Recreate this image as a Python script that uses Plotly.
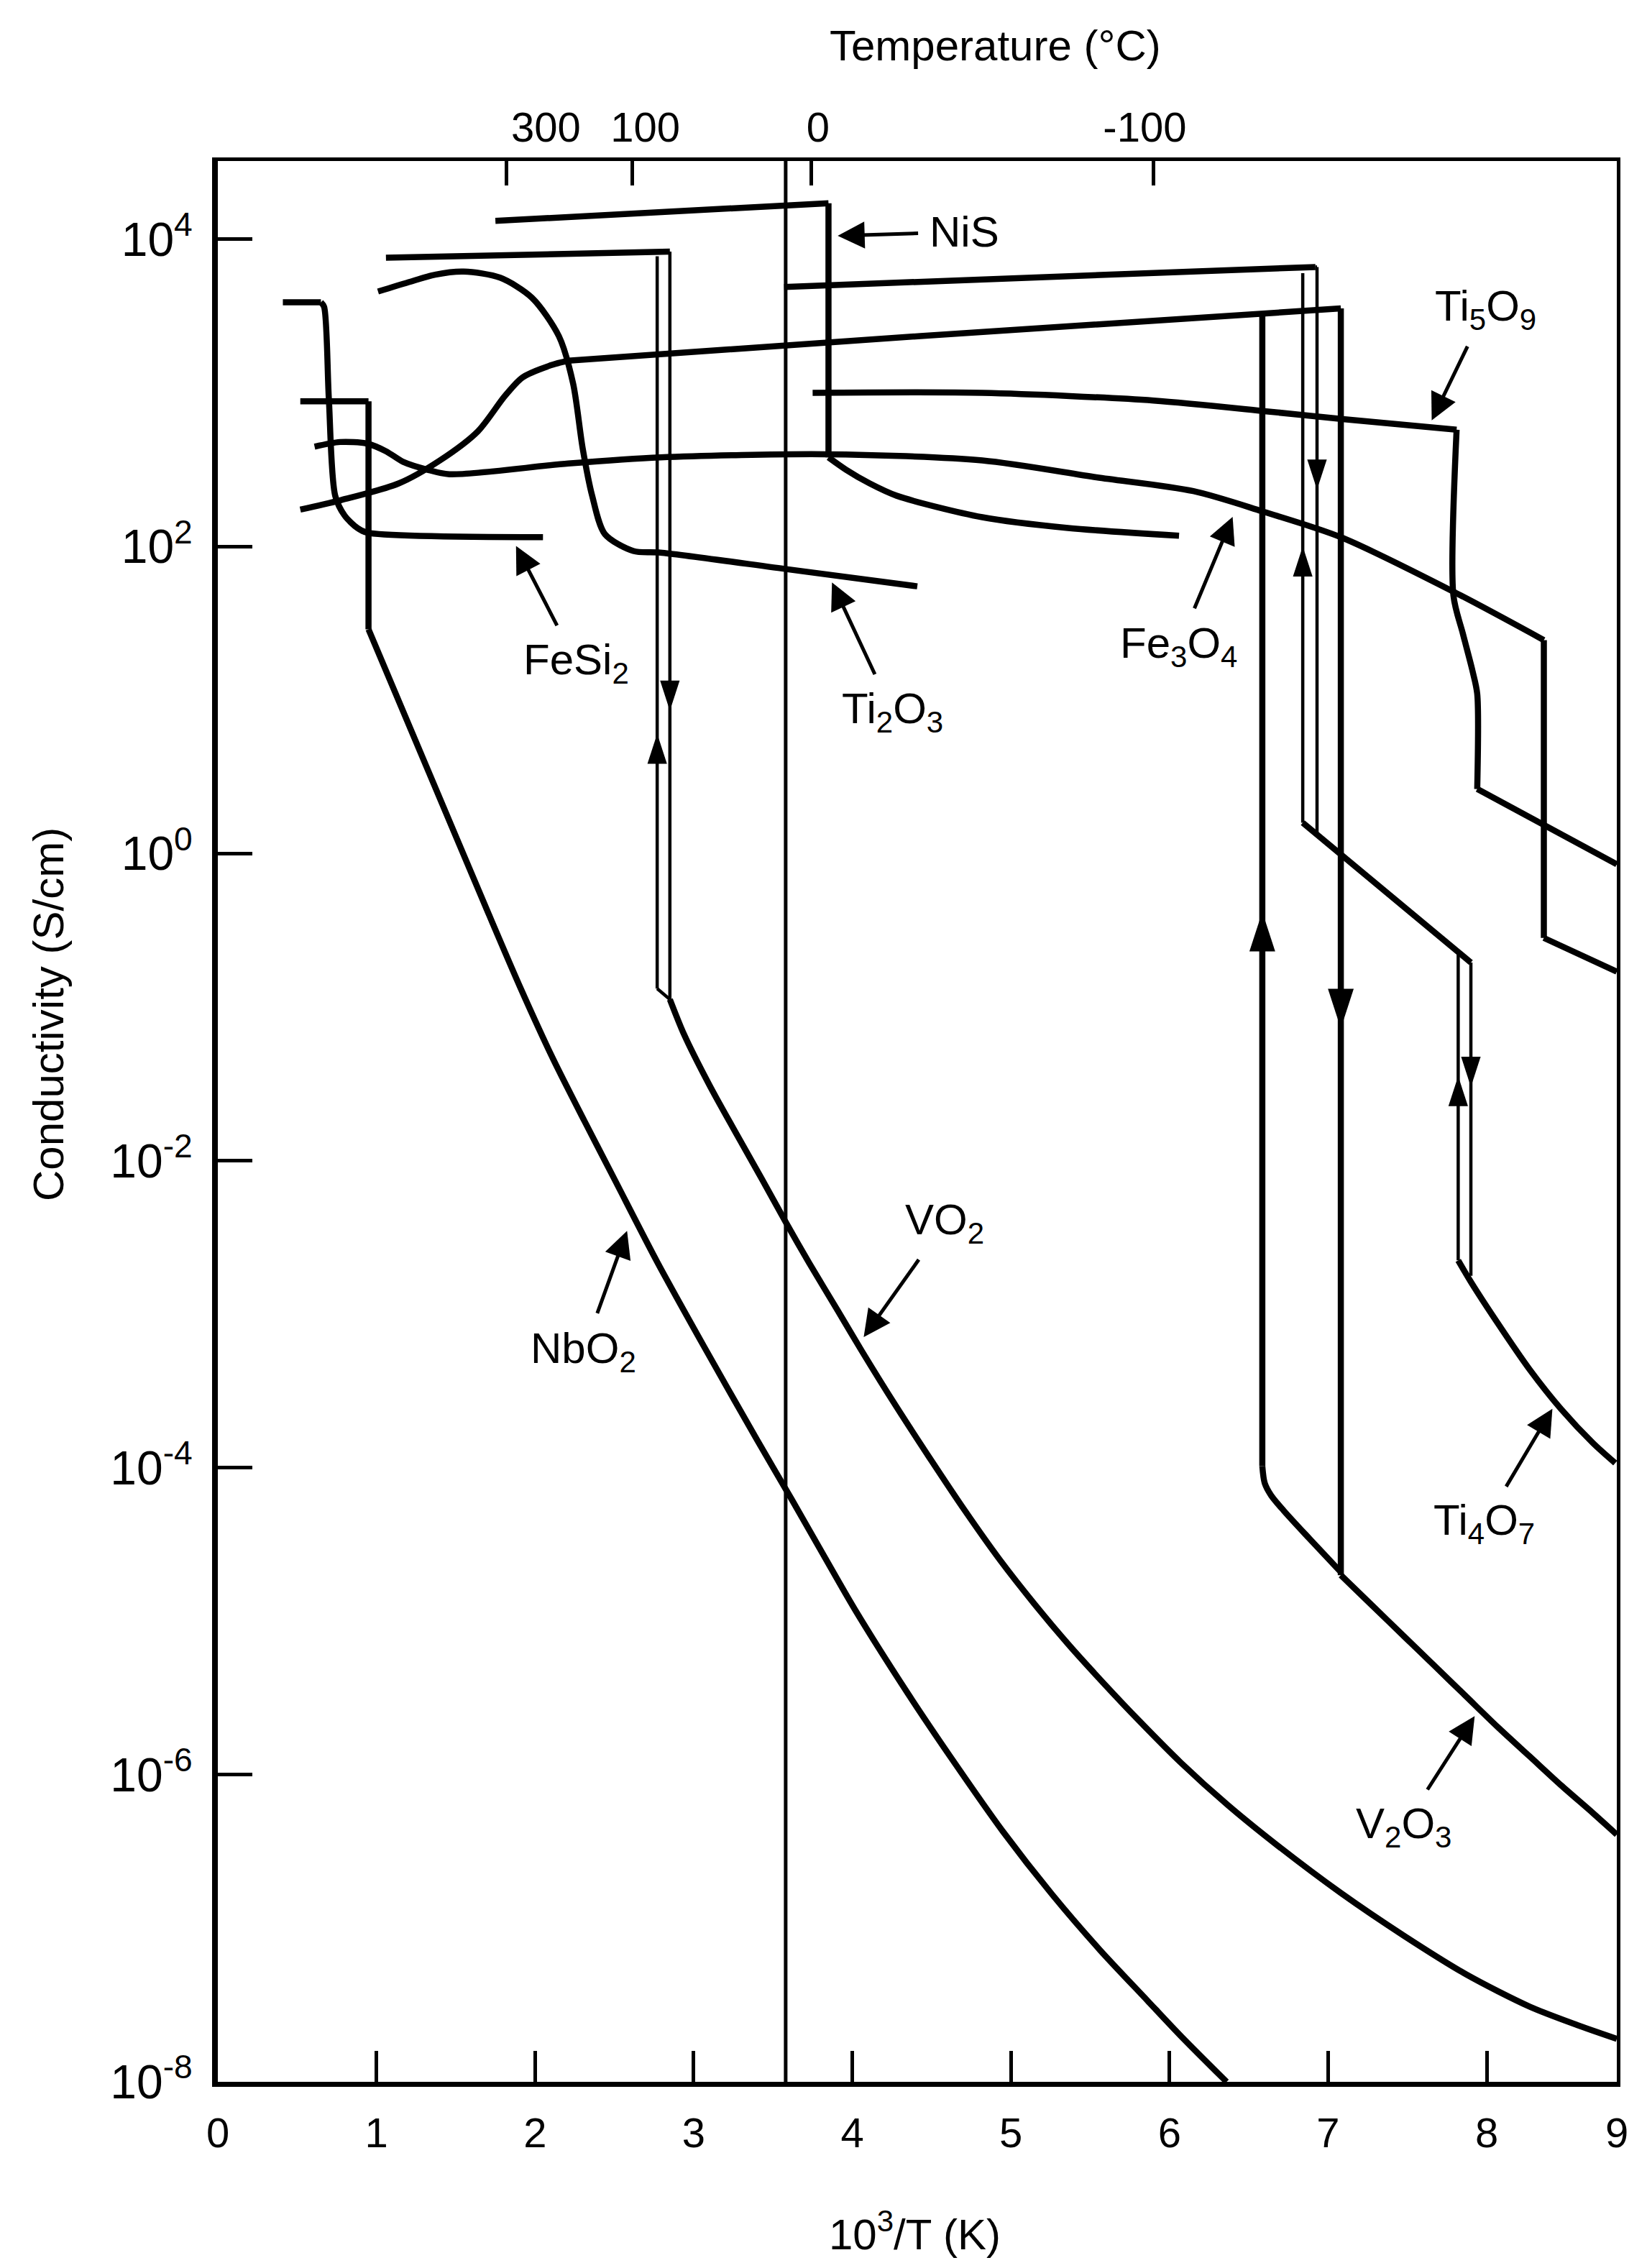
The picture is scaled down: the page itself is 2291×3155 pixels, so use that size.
import plotly.graph_objects as go

# x values: 10^3/T (1/K); s values: log10 of conductivity (S/cm)
nis_x = [1.75, 3.85, 3.85, 3.96, 4.11, 4.28, 4.82, 5.36, 6.06]
nis_s = [4.12, 4.235, 2.58, 2.50, 2.41, 2.33, 2.19, 2.12, 2.07]
nis_corners = [1, 2]

fe3o4_x = [0.61, 0.77, 0.94, 1.06, 1.17, 1.32, 1.46, 2.21, 2.79, 3.84, 4.82, 5.54, 6.15, 6.58, 7.08, 7.80, 8.36, 8.36, 8.82]
fe3o4_s = [2.65, 2.68, 2.67, 2.62, 2.55, 2.50, 2.47, 2.54, 2.58, 2.60, 2.56, 2.45, 2.36, 2.23, 2.06, 1.70, 1.39, -0.55, -0.77]
fe3o4_corners = [16, 17]

v2o3_cool_x = [0.52, 0.77, 1.14, 1.40, 1.64, 1.81, 1.92, 2.10, 2.21, 4.43, 7.08, 7.08, 7.28, 7.48, 7.68, 7.87, 8.07, 8.27, 8.47, 8.67, 8.82]
v2o3_cool_s = [2.24, 2.30, 2.41, 2.56, 2.75, 2.98, 3.10, 3.18, 3.21, 3.37, 3.55, -4.70, -4.90, -5.10, -5.30, -5.49, -5.69, -5.88, -6.07, -6.25, -6.39]
v2o3_cool_corners = [8, 10, 11]
v2o3_heat_x = [6.585, 6.585, 6.60, 6.64, 6.72, 6.88, 7.08]
v2o3_heat_s = [3.52, -3.99, -4.10, -4.18, -4.28, -4.46, -4.68]
v2o3_heat_corners = [1]

vo2_top_x = [1.06, 2.85]
vo2_top_s = [3.88, 3.92]
vo2_cool_x = [2.85, 2.85]
vo2_cool_s = [3.92, -0.95]
vo2_heat_x = [2.85, 2.77, 2.77]
vo2_heat_s = [-0.95, -0.88, 3.89]
vo2_ins_x = [2.85, 2.94, 3.10, 3.25, 3.43, 3.58, 3.73, 3.91, 4.06, 4.27, 4.49, 4.71, 4.93, 5.15,
             5.37, 5.59, 5.81, 6.07, 6.37, 6.68, 7.08, 7.48, 7.87, 8.27, 8.57, 8.82]
vo2_ins_s = [-0.95, -1.18, -1.51, -1.79, -2.12, -2.40, -2.67, -2.98, -3.24, -3.59, -3.94, -4.28, -4.60, -4.89,
             -5.16, -5.41, -5.65, -5.92, -6.20, -6.46, -6.77, -7.05, -7.30, -7.51, -7.63, -7.72]

nbo2_x = [0.52, 0.95, 0.95, 1.33, 1.71, 1.91, 2.11, 2.31, 2.50, 2.77, 3.07, 3.40, 3.62, 3.83, 4.02,
          4.35, 4.65, 4.95, 5.26, 5.56, 5.86, 6.07, 6.36]
nbo2_s = [2.945, 2.945, 1.46, 0.53, -0.40, -0.88, -1.33, -1.74, -2.12, -2.66, -3.22, -3.82, -4.21, -4.59, -4.93,
          -5.47, -5.93, -6.37, -6.78, -7.14, -7.47, -7.70, -8.0]
nbo2_corners = [1, 2]

fesi2_x = [0.41, 0.65, 0.67, 0.70, 0.74, 0.80, 0.88, 0.94, 2.05]
fesi2_s = [3.59, 3.59, 3.56, 2.96, 2.33, 2.20, 2.12, 2.09, 2.06]
fesi2_corners = [1]

ti2o3_x = [1.01, 1.20, 1.37, 1.55, 1.78, 1.98, 2.15, 2.24, 2.30, 2.36, 2.44, 2.62, 2.79, 3.60, 4.41]
ti2o3_s = [3.66, 3.72, 3.77, 3.79, 3.75, 3.62, 3.37, 3.06, 2.64, 2.33, 2.08, 1.97, 1.96, 1.85, 1.74]

ti5o9_x = [3.75, 4.82, 5.90, 6.61, 7.08, 7.81, 7.79, 7.85, 7.91, 7.94, 7.94, 8.82]
ti5o9_s = [3.00, 3.00, 2.95, 2.88, 2.83, 2.76, 1.68, 1.43, 1.19, 1.04, 0.42, -0.07]
ti5o9_corners = [5, 10]

ti4o7_metal_x = [3.57, 6.92]
ti4o7_metal_s = [3.69, 3.82]
ti4o7_cool1_x = [6.92, 6.93, 6.93]
ti4o7_cool1_s = [3.82, 3.82, 0.12]
ti4o7_heat1_x = [6.84, 6.84]
ti4o7_heat1_s = [0.20, 3.78]
ti4o7_mid_x = [6.84, 7.90]
ti4o7_mid_s = [0.20, -0.71]
ti4o7_cool2_x = [7.90, 7.90]
ti4o7_cool2_s = [-0.71, -2.75]
ti4o7_heat2_x = [7.82, 7.82]
ti4o7_heat2_s = [-2.65, -0.64]
ti4o7_ins_x = [7.82, 7.90, 8.07, 8.27, 8.47, 8.67, 8.81]
ti4o7_ins_s = [-2.65, -2.79, -3.06, -3.36, -3.62, -3.84, -3.97]

ref_line_x = 3.58

# axis ticks
x_tick_vals = [0, 1, 2, 3, 4, 5, 6, 7, 8, 8.82]
x_tick_text = ["0", "1", "2", "3", "4", "5", "6", "7", "8", "9"]
y_tick_vals = [1e4, 1e2, 1, 1e-2, 1e-4, 1e-6, 1e-8]
y_tick_text = ["10<sup>4</sup>", "10<sup>2</sup>", "10<sup>0</sup>", "10<sup>-2</sup>",
               "10<sup>-4</sup>", "10<sup>-6</sup>", "10<sup>-8</sup>"]
temp_tick_marks = [1.818, 2.614, 3.743, 5.898]
temp_label_pos = [2.069, 2.695, 3.784, 5.844]
temp_label_text = ["300", "100", "0", "-100"]

# labels: (text, text x, text log10 sigma, arrow head x, arrow head log10 sigma)
labels = [
    ("NiS", 4.705, 4.048, 3.908, 4.023),
    ("Ti<sub>5</sub>O<sub>9</sub>", 7.993, 3.547, 7.653, 2.821),
    ("Fe<sub>3</sub>O<sub>4</sub>", 6.058, 1.351, 6.398, 2.193),
    ("Ti<sub>2</sub>O<sub>3</sub>", 4.253, 0.923, 3.872, 1.765),
    ("FeSi<sub>2</sub>", 2.260, 1.242, 1.880, 2.003),
    ("NbO<sub>2</sub>", 2.306, -3.241, 2.580, -2.458),
    ("VO<sub>2</sub>", 4.583, -2.407, 4.072, -3.150),
    ("Ti<sub>4</sub>O<sub>7</sub>", 7.984, -4.364, 8.414, -3.616),
    ("V<sub>2</sub>O<sub>3</sub>", 7.477, -6.337, 7.924, -5.618),
]
# hysteresis direction arrowheads: (x, tip log10 sigma, direction)
small_arrow_x = [2.85, 2.77, 6.93, 6.84, 7.82, 7.90]
small_arrow_s = [0.93, 0.78, 2.37, 2.00, -1.45, -1.52]
small_arrow_dir = [180, 0, 180, 0, 0, 180]
big_arrow_x = [6.585, 7.08]
big_arrow_s = [-0.38, -1.14]
big_arrow_dir = [0, 180]

FONT = "Liberation Sans, Arial, Helvetica, sans-serif"
THICK = 8.5
THIN = 4.5

fig = go.Figure()


def add_path(xs, logs, width, corners=()):
    cuts = [0] + sorted(corners) + [len(xs) - 1]
    for a, b in zip(cuts[:-1], cuts[1:]):
        if b <= a:
            continue
        fig.add_trace(go.Scatter(
            x=xs[a:b + 1], y=[10 ** v for v in logs[a:b + 1]], mode="lines",
            line=dict(color="black", width=width, shape="spline", smoothing=0.8),
            showlegend=False, hoverinfo="skip"))


add_path(nis_x, nis_s, THICK, nis_corners)
add_path(fe3o4_x, fe3o4_s, THICK, fe3o4_corners)
add_path(v2o3_cool_x, v2o3_cool_s, THICK, v2o3_cool_corners)
add_path(v2o3_heat_x, v2o3_heat_s, THICK, v2o3_heat_corners)
add_path(vo2_top_x, vo2_top_s, THICK)
add_path(vo2_cool_x, vo2_cool_s, THIN)
add_path(vo2_heat_x, vo2_heat_s, THIN, [1])
add_path(vo2_ins_x, vo2_ins_s, THICK)
add_path(nbo2_x, nbo2_s, THICK, nbo2_corners)
add_path(fesi2_x, fesi2_s, THICK, fesi2_corners)
add_path(ti2o3_x, ti2o3_s, THICK)
add_path(ti5o9_x, ti5o9_s, THICK, ti5o9_corners)
add_path(ti4o7_metal_x, ti4o7_metal_s, THICK)
add_path(ti4o7_cool1_x, ti4o7_cool1_s, THIN, [1])
add_path(ti4o7_heat1_x, ti4o7_heat1_s, THIN)
add_path(ti4o7_mid_x, ti4o7_mid_s, THICK)
add_path(ti4o7_cool2_x, ti4o7_cool2_s, THIN)
add_path(ti4o7_heat2_x, ti4o7_heat2_s, THIN)
add_path(ti4o7_ins_x, ti4o7_ins_s, THICK)

# arrowheads on the hysteresis branches
fig.add_trace(go.Scatter(
    x=small_arrow_x, y=[10 ** v for v in small_arrow_s], mode="markers",
    marker=dict(symbol="arrow", size=44, angle=small_arrow_dir, color="black", line=dict(width=0)),
    showlegend=False, hoverinfo="skip"))
fig.add_trace(go.Scatter(
    x=big_arrow_x, y=[10 ** v for v in big_arrow_s], mode="markers",
    marker=dict(symbol="arrow", size=58, angle=big_arrow_dir, color="black", line=dict(width=0)),
    showlegend=False, hoverinfo="skip"))

# helper traces so the secondary axes are drawn
fig.add_trace(go.Scatter(x=[None], y=[None], xaxis="x2", yaxis="y", showlegend=False, hoverinfo="skip"))
fig.add_trace(go.Scatter(x=[None], y=[None], xaxis="x3", yaxis="y", showlegend=False, hoverinfo="skip"))
fig.add_trace(go.Scatter(x=[None], y=[None], xaxis="x", yaxis="y2", showlegend=False, hoverinfo="skip"))

fig.add_vline(x=ref_line_x, line=dict(color="black", width=5))

ann = []
for text, tx, ts, hx, hs in labels:
    ann.append(dict(text=text, x=hx, y=hs, ax=tx, ay=ts, xref="x", yref="y", axref="x", ayref="y",
                    showarrow=True, arrowhead=2, arrowsize=1.5, arrowwidth=5, arrowcolor="black",
                    standoff=0, startstandoff=14,
                    font=dict(family=FONT, size=60, color="black")))

# axis titles
ann.append(dict(text="Temperature (°C)", x=0.5560, y=1.0600, xref="paper", yref="paper",
                showarrow=False, xanchor="center", yanchor="middle",
                font=dict(family=FONT, size=60, color="black")))
ann.append(dict(text="10<sup>3</sup>/T (K)", x=0.498, y=-0.078, xref="paper", yref="paper",
                showarrow=False, xanchor="center", yanchor="middle",
                font=dict(family=FONT, size=60, color="black")))
ann.append(dict(text="Conductivity (S/cm)", x=-0.121, y=0.5556, xref="paper", yref="paper",
                showarrow=False, xanchor="center", yanchor="middle", textangle=-90,
                font=dict(family=FONT, size=60, color="black")))

tickfont = dict(family=FONT, size=58, color="black")
ytickfont = dict(family=FONT, size=66, color="black")
xr = [0, 8.82]
fig.update_layout(
    width=2275, height=3139,
    margin=dict(l=295, r=34, t=216, b=251, pad=0),
    paper_bgcolor="white", plot_bgcolor="white",
    showlegend=False,
    annotations=ann,
    xaxis=dict(range=xr, showgrid=False, zeroline=False, showline=True, linewidth=7, linecolor="black",
               ticks="inside", ticklen=43, tickwidth=5, tickcolor="black",
               tickmode="array", tickvals=x_tick_vals, ticktext=x_tick_text,
               tickfont=tickfont, ticklabelstandoff=14, mirror=False),
    xaxis2=dict(range=xr, overlaying="x", side="top", anchor="y", showgrid=False, zeroline=False,
                showline=True, linewidth=5, linecolor="black",
                ticks="inside", ticklen=34, tickwidth=5, tickcolor="black",
                tickmode="array", tickvals=temp_tick_marks, showticklabels=False),
    xaxis3=dict(range=xr, overlaying="x", side="top", anchor="y", showgrid=False, zeroline=False,
                showline=False, ticks="", tickmode="array", tickvals=temp_label_pos,
                ticktext=temp_label_text, tickfont=tickfont, ticklabelstandoff=14),
    yaxis=dict(type="log", range=[-8, 4.51], showgrid=False, zeroline=False, showline=True,
               linewidth=8, linecolor="black", ticks="inside", ticklen=48, tickwidth=5,
               tickcolor="black", tickmode="array", tickvals=y_tick_vals, ticktext=y_tick_text,
               tickfont=ytickfont, ticklabelstandoff=14, mirror=False),
    yaxis2=dict(type="log", range=[-8, 4.51], overlaying="y", side="right", anchor="x",
                showgrid=False, zeroline=False, showline=True, linewidth=5, linecolor="black",
                ticks="", showticklabels=False),
)

fig.write_html("out.html")
